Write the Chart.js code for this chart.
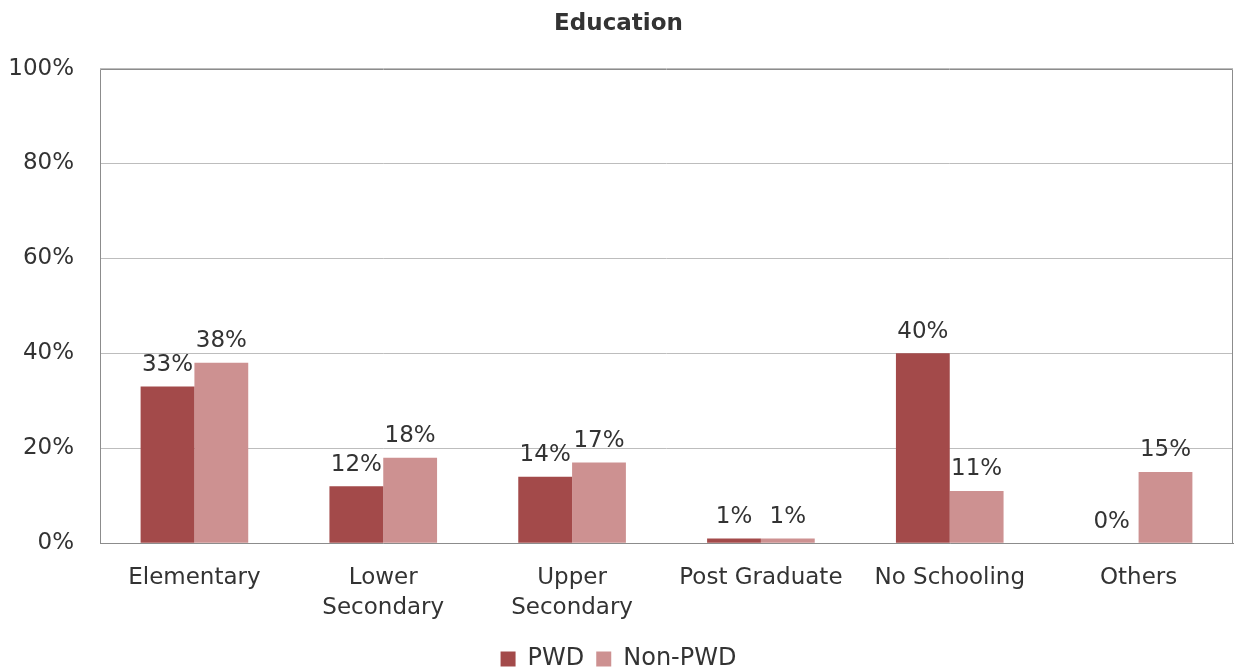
<!DOCTYPE html>
<html>
<head>
<meta charset="utf-8">
<script src="https://cdn.jsdelivr.net/npm/chart.js@4"></script>
<style>
  html, body { margin: 0; padding: 0; background: #fff; }
  #wrap { width: 1235px; height: 671px; }
</style>
</head>
<body>
<div id="wrap"><canvas id="eduChart"></canvas></div>
<script>
const categories = [["Elementary"], ["Lower", "Secondary"], ["Upper", "Secondary"], ["Post Graduate"], ["No Schooling"], ["Others"]];
const pwdValues = [33, 12, 14, 1, 40, 0];
const nonPwdValues = [38, 18, 17, 1, 11, 15];
const yTicks = [0, 20, 40, 60, 80, 100];

const FONT = "'DejaVu Sans', sans-serif";
const TEXT = "#333333";

// value labels above every bar
const barLabels = {
    id: "barLabels",
    afterDatasetsDraw(chart) {
        const ctx = chart.ctx;
        ctx.save();
        ctx.font = "23px " + FONT;
        ctx.fillStyle = TEXT;
        ctx.textAlign = "center";
        ctx.textBaseline = "bottom";
        chart.data.datasets.forEach((ds, i) => {
            chart.getDatasetMeta(i).data.forEach((bar, j) => {
                ctx.fillText(ds.data[j] + "%", bar.x, bar.y - 10);
            });
        });
        ctx.restore();
    }
};

// grey frame on left, top and right of the plot
const plotFrame = {
    id: "plotFrame",
    beforeDatasetsDraw(chart) {
        const a = chart.chartArea;
        const ctx = chart.ctx;
        ctx.save();
        ctx.strokeStyle = "#8c8c8c";
        ctx.lineWidth = 1;
        ctx.beginPath();
        ctx.moveTo(Math.round(a.left) + 0.5, a.bottom);
        ctx.lineTo(Math.round(a.left) + 0.5, Math.round(a.top) + 0.5);
        ctx.lineTo(Math.round(a.right) - 0.5, Math.round(a.top) + 0.5);
        ctx.lineTo(Math.round(a.right) - 0.5, a.bottom);
        ctx.stroke();
        ctx.restore();
    }
};

new Chart(document.getElementById("eduChart"), {
    type: "bar",
    data: {
        labels: categories,
        datasets: [
            { label: "PWD", data: pwdValues, backgroundColor: "#A34A4A" },
            { label: "Non-PWD", data: nonPwdValues, backgroundColor: "#CD9191" }
        ]
    },
    options: {
        responsive: true,
        maintainAspectRatio: false,
        animation: false,
        layout: { padding: { left: 4, right: 2, top: 0, bottom: -10 } },
        datasets: { bar: { categoryPercentage: 0.57, barPercentage: 1.0 } },
        plugins: {
            title: {
                display: true,
                text: "Education",
                color: TEXT,
                font: { family: FONT, size: 23, weight: "bold" },
                padding: { top: 10, bottom: 31 }
            },
            legend: {
                position: "bottom",
                labels: {
                    color: TEXT,
                    font: { family: FONT, size: 24 },
                    boxWidth: 15,
                    boxHeight: 15,
                    padding: 12
                }
            },
            tooltip: { enabled: false }
        },
        scales: {
            x: {
                grid: { display: false },
                border: { color: "#8c8c8c" },
                ticks: { color: TEXT, font: { family: FONT, size: 23, lineHeight: 1.3 }, padding: 12, maxRotation: 0 }
            },
            y: {
                min: 0,
                max: 100,
                afterBuildTicks: (axis) => { axis.ticks = yTicks.map(v => ({ value: v })); },
                afterFit: (axis) => { axis.width = 96; },
                grid: { color: "#bdbdbd", drawTicks: false },
                border: { display: false },
                ticks: {
                    color: TEXT,
                    font: { family: FONT, size: 23 },
                    padding: 26,
                    callback: (v) => v + "%"
                }
            }
        }
    },
    plugins: [barLabels, plotFrame]
});
</script>
</body>
</html>
